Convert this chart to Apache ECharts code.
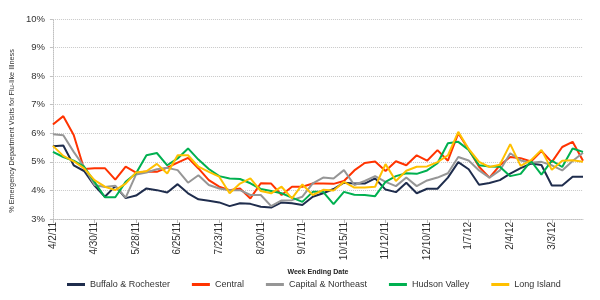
<!DOCTYPE html>
<html>
<head>
<meta charset="utf-8">
<script src="https://cdn.jsdelivr.net/npm/echarts@6/dist/echarts.min.js"></script>
<style>
  html, body { margin: 0; padding: 0; background: #fff; }
  #chart { width: 600px; height: 300px; }
</style>
</head>
<body>
<div id="chart"></div>
<script>
// week ending dates, one point per week
var weeks = [
  "4/2/11", "4/9/11", "4/16/11", "4/23/11", "4/30/11", "5/7/11", "5/14/11", "5/21/11",
  "5/28/11", "6/4/11", "6/11/11", "6/18/11", "6/25/11", "7/2/11", "7/9/11", "7/16/11",
  "7/23/11", "7/30/11", "8/6/11", "8/13/11", "8/20/11", "8/27/11", "9/3/11", "9/10/11",
  "9/17/11", "9/24/11", "10/1/11", "10/8/11", "10/15/11", "10/22/11", "10/29/11", "11/5/11",
  "11/12/11", "11/19/11", "11/26/11", "12/3/11", "12/10/11", "12/17/11", "12/24/11", "12/31/11",
  "1/7/12", "1/14/12", "1/21/12", "1/28/12", "2/4/12", "2/11/12", "2/18/12", "2/25/12",
  "3/3/12", "3/10/12", "3/17/12", "3/24/12"
];

var buffalo = [
  5.55, 5.57, 4.88, 4.68, 4.17, 3.78, 4.15, 3.73, 3.82, 4.07, 4.01, 3.93, 4.22,
  3.9, 3.69, 3.64, 3.58, 3.45, 3.55, 3.53, 3.43, 3.4, 3.58, 3.55, 3.49, 3.78,
  3.9, 4.05, 4.27, 4.24, 4.24, 4.42, 4.03, 3.94, 4.27, 3.9, 4.06, 4.06, 4.45,
  4.99, 4.74, 4.2, 4.26, 4.36, 4.59, 4.78, 4.94, 4.89, 4.17, 4.17, 4.48, 4.48
];
var central = [
  6.31, 6.6, 5.94, 4.75, 4.78, 4.78, 4.38, 4.83, 4.62, 4.66, 4.65, 4.8, 4.97,
  5.14, 4.77, 4.36, 4.13, 4.01, 4.07, 3.72, 4.25, 4.24, 3.84, 4.13, 4.13, 4.24,
  4.24, 4.23, 4.33, 4.7, 4.96, 5.01, 4.68, 5.02, 4.88, 5.23, 5.04, 5.41, 5.04,
  6.0, 5.43, 4.83, 4.45, 4.88, 5.17, 5.13, 5.01, 5.38, 4.99, 5.52, 5.7, 5.04
];
var capital = [
  5.97, 5.93, 5.35, 4.83, 4.19, 4.12, 4.16, 3.75, 4.56, 4.63, 4.74, 4.79, 4.71,
  4.27, 4.53, 4.19, 4.07, 4.01, 4.01, 3.84, 3.84, 3.45, 3.65, 3.66, 3.78, 4.25,
  4.45, 4.42, 4.71, 4.19, 4.33, 4.5, 4.3, 4.15, 4.45, 4.15, 4.35, 4.45, 4.6,
  5.17, 5.05, 4.7, 4.45, 4.7, 5.3, 5.05, 4.97, 5.0, 4.88, 4.7, 5.03, 5.32
];
var hudson = [
  5.35, 5.17, 5.04, 4.83, 4.3, 3.76, 3.76, 4.3, 4.6, 5.23, 5.31, 4.88, 5.12,
  5.47, 5.08, 4.75, 4.5, 4.42, 4.4, 4.25, 4.05, 3.98, 3.9, 3.75, 3.6, 3.95,
  3.95, 3.52, 3.95, 3.85, 3.84, 3.8, 4.3, 4.5, 4.6, 4.58, 4.7, 4.95, 5.65,
  5.7, 5.42, 4.88, 4.84, 4.83, 4.5, 4.58, 5.03, 4.55, 5.04, 4.82, 5.47, 5.35
];
var longIsland = [
  5.56, 5.21, 5.02, 4.77, 4.36, 4.13, 4.01, 4.24, 4.63, 4.67, 4.93, 4.59, 5.23,
  5.23, 4.83, 4.65, 4.48, 3.9, 4.24, 4.42, 3.98, 3.9, 4.13, 3.72, 4.21, 3.84,
  4.02, 4.0, 4.3, 4.1, 4.1, 4.13, 4.92, 4.33, 4.69, 4.83, 4.84, 4.99, 5.23,
  6.05, 5.45, 5.0, 4.82, 4.9, 5.62, 4.86, 5.06, 5.42, 4.72, 5.04, 5.06, 5.0
];

var seriesNames = ["Buffalo & Rochester", "Central", "Capital & Northeast", "Hudson Valley", "Long Island"];
var seriesColors = ["#1f2d4d", "#ff3300", "#969696", "#00b050", "#ffc000"];
var seriesData = [buffalo, central, capital, hudson, longIsland];

var chart = echarts.init(document.getElementById("chart"));

var option = {
  animation: false,
  textStyle: { fontFamily: "Liberation Sans, Arial, sans-serif" },
  grid: { left: 47, right: 17, top: 19, bottom: 81 },
  legend: {
    left: 62,
    top: 275,
    icon: "rect",
    itemWidth: 18,
    itemHeight: 3,
    itemGap: 22,
    textStyle: { fontSize: 9, color: "#333" },
    data: seriesNames
  },
  xAxis: {
    type: "category",
    boundaryGap: false,
    data: weeks,
    name: "Week Ending Date",
    nameLocation: "middle",
    nameGap: 49,
    nameTextStyle: { fontSize: 7, fontWeight: "bold", color: "#222" },
    axisLine: { lineStyle: { color: "#c0c0c0", type: "dotted" } },
    axisTick: { interval: 3, length: 4, lineStyle: { color: "#c0c0c0" } },
    axisLabel: { interval: 3, rotate: 90, fontSize: 10, color: "#333", margin: 3 }
  },
  yAxis: {
    type: "value",
    min: 3,
    max: 10,
    interval: 1,
    name: "% Emergency Department Visits for Flu-like Illness",
    nameLocation: "middle",
    nameGap: 30,
    nameTextStyle: { fontSize: 7.3, color: "#333", padding: [0, 24, 0, 0] },
    axisLine: { show: true, lineStyle: { color: "#c0c0c0", type: "dotted" } },
    axisTick: { show: true, length: 3, lineStyle: { color: "#c0c0c0" } },
    axisLabel: { formatter: "{value}%", fontSize: 9.5, color: "#333", margin: 8 },
    splitLine: { lineStyle: { color: "#c8c8c8", type: "dotted" } }
  },
  series: seriesNames.map(function (name, i) {
    return {
      name: name,
      type: "line",
      data: seriesData[i],
      symbol: "none",
      color: seriesColors[i],
      lineStyle: { width: 2 }
    };
  })
};

chart.setOption(option);
</script>
</body>
</html>
